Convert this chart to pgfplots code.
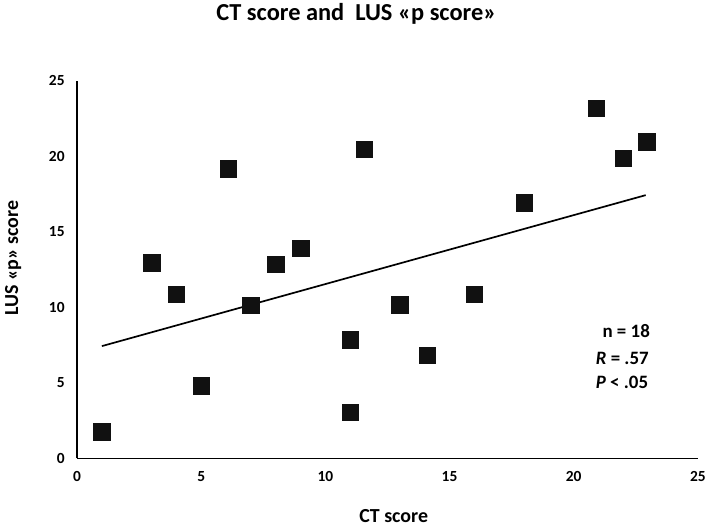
\documentclass[border=0pt]{standalone}
\usepackage{fontspec}
\setmainfont{Carlito}
\usepackage{pgfplots}
\pgfplotsset{compat=1.18}

\definecolor{dot}{HTML}{111111}

\begin{document}
\begin{tikzpicture}
\begin{axis}[
    at={(0,0)}, anchor=south west,
    scale only axis,
    width=623.6pt, height=379.5pt,
    xmin=0, xmax=25, ymin=0, ymax=25,
    axis x line=bottom, axis y line=left,
    axis line style={-, line width=1.6pt, black},
    xtick={0,5,...,25}, ytick={0,5,...,25},
    major tick length=0pt,
    /pgf/number format/assume math mode=true,
    ticklabel style={font=\fontsize{15.5}{18}\selectfont\bfseries},
    xticklabel style={yshift=-10pt},
    yticklabel style={xshift=-9pt},
    title={CT score and\ \ LUS «p score»},
    title style={at={(axis description cs:0.45,1.161)}, anchor=center,
        font=\fontsize{24.5}{28}\selectfont\bfseries},
    xlabel={CT score},
    xlabel style={at={(axis description cs:0.510,-0.1515)}, anchor=center,
        font=\fontsize{20}{24}\selectfont\bfseries},
    ylabel={LUS «p» score},
    ylabel style={at={(axis description cs:-0.103,0.53)}, anchor=center, rotate=0,
        font=\fontsize{20}{24}\selectfont\bfseries},
    clip=false,
]
\addplot[line width=1.7pt, black] coordinates {(1,7.43) (22.9,17.42)};
\addplot[only marks, mark=square*, mark size=8.3pt,
    mark options={fill=dot, draw=dot, rounded corners=1.5pt}] coordinates {
    (1,1.77) (3,12.96) (4,10.88) (5,4.80) (6.09,19.18) (7,10.13)
    (8,12.86) (9,13.91) (11,3.06) (11,7.87) (11.56,20.45) (13,10.16)
    (14.1,6.84) (16,10.88) (18,16.92) (20.9,23.17) (22,19.88) (22.93,20.94)
};
\node[anchor=west, font=\fontsize{19}{22}\selectfont\bfseries] at (axis cs:21.02,8.4) {n = 18};
\node[anchor=west, font=\fontsize{19}{22}\selectfont\bfseries] at (axis cs:20.75,6.62) {\textit{R} = .57};
\node[anchor=west, font=\fontsize{19}{22}\selectfont\bfseries] at (axis cs:20.75,5.02) {\textit{P} < .05};
\end{axis}
\path[use as bounding box] (-77.4pt,-70.5pt) rectangle (631.6pt,459.5pt);
\end{tikzpicture}
\end{document}
